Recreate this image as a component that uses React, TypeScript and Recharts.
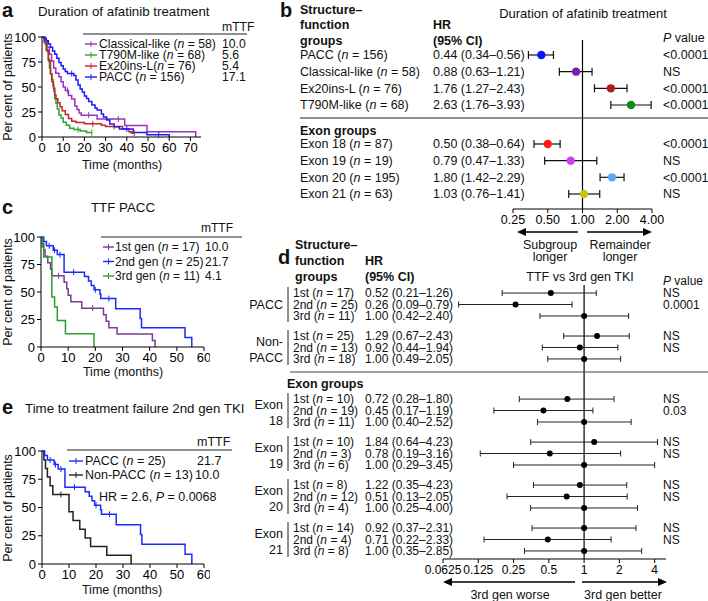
import {
  LineChart,
  Line,
  XAxis,
  YAxis,
  ScatterChart,
  Scatter,
  ErrorBar,
  ReferenceLine,
  Cell,
} from "recharts";

const FONT = '"Liberation Sans", Arial, Helvetica, sans-serif';

// ---- panel a: duration of afatinib treatment (KM) ----
const aLabels = ["Classical-like ", "T790M-like ", "Ex20ins-L", "PACC "];
const aN = [58, 68, 76, 156];
const aMTTF = ["10.0", "5.6", "5.4", "17.1"];
const aColors = ["#9b30c4", "#2ba52b", "#c0262c", "#1a1aff"];
// [months, per cent, censored?]
const aClassical = [[0,100],[1.5,96.6],[2.5,89.7],[3.5,82.8],[4.5,75.9],[5.5,69],[6.5,63.8],[8,60.3],[9,55.2],[10,50],[11,46.6],[12,46.6,1],[12.5,41.4],[14,37.9],[15.5,31],[16.5,27.6],[17.5,24.1],[18.5,21.8],[22,21.8,1],[26,18],[36,18,1],[39,11.5],[49.5,5.3],[72.5,0]];
const aT790M = [[0,100],[1,97],[1.5,92.6],[2.5,85.3],[3,77.9],[3.5,69],[4,63.2],[4.5,57.4],[5.2,51.5],[5.6,45.6],[6,38.2],[6.6,33.8],[7.2,27.9],[8,22.1],[9,19.1],[10,14.7],[11.5,11.8],[13,8.8],[15,7.4],[17,7.4,1],[18,5.9],[21,4.4],[23.5,4.4,1]];
const aEx20 = [[0,100],[1,94.7],[2,86.8],[3,76.3],[4,63.2],[4.7,55.3],[5.4,48.7],[6,42.1],[6.6,38.2],[7.5,34.2],[8.5,30.3],[9.5,26.3],[11,22.4],[12.5,18.4],[14,15.8],[16,14.5],[20,13.2],[24,13.2,1],[28,11.8],[30,10.5],[34,10.5,1],[38,7.9],[41,5.3],[42,3.9],[43.5,3.9,1]];
const aPACC = [[0,100],[1,98.7],[2,96.2],[3,92.9],[4,89.7],[5,85.9],[6,82.7],[7,78.8],[8,74.4],[9,71.2],[10,67.9],[11,65.4],[12,63.5],[14,63.5,1],[15,61.5],[16,57],[17,51.9],[18,48],[19,45],[20,41],[21,38.5],[22,35.5],[23.5,32],[25,29],[26,27],[28,23],[29,20],[30.5,17],[32,13],[34,10.3],[36.5,8],[40,8,1],[43,4.5],[49.5,2.2],[55,2.2,1],[60,0]];

// ---- panel c: TTF PACC by generation ----
const cLabels = ["1st gen ", "2nd gen ", "3rd gen "];
const cN = [17, 25, 11];
const cMTTF = ["10.0", "21.7", "4.1"];
const cColors = ["#7a3d8f", "#1a2bff", "#2c9e2c"];
const c1st = [[0,100],[0.5,94.1],[1,88.2],[1.5,82.4],[2.5,76.5],[3.5,70.6],[4,64.7],[6.5,64.7,1],[8.5,58.8],[9.5,52.9],[10,47.1],[11,41.2],[15,35.3],[19,35.3,1],[23,29.4],[24,23.5],[25,17.6],[28,11.8],[41,5.9],[42,0]];
const c2nd = [[0,100],[1,96],[2,92],[3,92,1],[4.5,88],[5,88,1],[6,84],[7,84,1],[8.5,68],[12,68,1],[16,64],[17.5,60],[18.5,56],[19.5,52],[20,52,1],[21.7,48],[22,44],[25,44,1],[27.5,34.8],[36.5,26],[37,17.4],[53,8.7],[55.5,0]];
const c3rd = [[0,100],[0.5,90.9],[1,81.8],[4,45.5],[5,36.4],[6,24.2],[9,12.1],[19.5,0]];

// ---- panel e: TTF 2nd gen TKI ----
const eLabels = ["PACC ", "Non-PACC "];
const eN = [25, 13];
const eMTTF = ["21.7", "10.0"];
const eColors = ["#1a2bff", "#222222"];
const ePACC = c2nd;
const eNonPACC = [[0,100],[0.7,92.3],[1.3,84.6],[2,76.9],[3,69.2],[4,61.5],[7,61.5,1],[10,46.2],[11.5,38.5],[14,30.8],[16,23.1],[18,15.4],[24,7.7],[33,0]];

// ---- panel b: forest plot ----
const bGroups = ["PACC", "Classical-like", "Ex20ins-L", "T790M-like"];
const bGroupN = [156, 58, 76, 68];
const bGroupHR = [0.44, 0.88, 1.76, 2.63];
const bGroupLo = [0.34, 0.63, 1.27, 1.76];
const bGroupHi = [0.56, 1.21, 2.43, 3.93];
const bGroupP = ["<0.0001", "NS", "<0.0001", "<0.0001"];
const bGroupColors = ["#0a14ff", "#7a1fa8", "#b01c1c", "#128a1a"];
const bExons = ["Exon 18", "Exon 19", "Exon 20", "Exon 21"];
const bExonN = [87, 19, 195, 63];
const bExonHR = [0.5, 0.79, 1.8, 1.03];
const bExonLo = [0.38, 0.47, 1.42, 0.76];
const bExonHi = [0.64, 1.33, 2.29, 1.41];
const bExonP = ["<0.0001", "NS", "<0.0001", "NS"];
const bExonColors = ["#ff1a1a", "#d23cf0", "#5aa9ff", "#c9c21a"];
const bTicks = [0.25, 0.5, 1, 2, 4];

// ---- panel d: forest plot vs 3rd gen ----
const dGroupLines = [["PACC"], ["Non-", "PACC"], ["Exon", "18"], ["Exon", "19"], ["Exon", "20"], ["Exon", "21"]];
const dGens = ["1st", "2nd", "3rd"];
const dN = [[17, 25, 11], [25, 13, 18], [10, 19, 11], [10, 3, 6], [8, 12, 4], [14, 4, 8]];
const dHRText = [
  ["0.52 (0.21–1.26)", "0.26 (0.09–0.79)", "1.00 (0.42–2.40)"],
  ["1.29 (0.67–2.43)", "0.92 (0.44–1.94)", "1.00 (0.49–2.05)"],
  ["0.72 (0.28–1.80)", "0.45 (0.17–1.19)", "1.00 (0.40–2.52)"],
  ["1.84 (0.64–4.23)", "0.78 (0.19–3.16)", "1.00 (0.29–3.45)"],
  ["1.22 (0.35–4.23)", "0.51 (0.13–2.05)", "1.00 (0.25–4.00)"],
  ["0.92 (0.37–2.31)", "0.71 (0.22–2.33)", "1.00 (0.35–2.85)"],
];
// estimates as drawn in the plot
const dHR = [[0.52, 0.26, 1], [1.29, 0.92, 1], [0.72, 0.45, 1], [1.22, 0.51, 1], [0.92, 0.71, 1], [1, 0.49, 1]];
const dLo = [[0.2, 0.085, 0.42], [0.67, 0.44, 0.49], [0.28, 0.17, 0.4], [0.35, 0.13, 0.25], [0.37, 0.22, 0.35], [0.36, 0.14, 0.31]];
const dHi = [[1.27, 0.79, 2.4], [2.43, 1.94, 2.05], [1.8, 1.19, 2.52], [4.23, 2.05, 4.0], [2.31, 2.33, 2.85], [2.77, 1.7, 3.1]];
const dP = [["NS", "0.0001", ""], ["NS", "NS", ""], ["NS", "0.03", ""], ["NS", "NS", ""], ["NS", "NS", ""], ["NS", "NS", ""]];
const dTicks = [0.0625, 0.125, 0.25, 0.5, 1, 2, 4];

const nText = (prefix: string, n: number) => (
  <>
    <tspan>{prefix}(</tspan>
    <tspan fontStyle="italic">n</tspan>
    <tspan>{` = ${n})`}</tspan>
  </>
);

const toPts = (arr: number[][]) => arr.map(([t, s, c]) => ({ t, s, c: !!c }));

const censorDot = (p: any) => {
  if (!p.payload || !p.payload.c) return <g key={`d${p.index}`} />;
  return <line key={`d${p.index}`} x1={p.cx} x2={p.cx} y1={p.cy - 3} y2={p.cy + 3} stroke={p.stroke} strokeWidth={1} />;
};

type KMProps = {
  left: number; top: number; width: number; height: number;
  x0: number; x1: number; y0: number; y1: number;
  xMax: number; xTicks: number[];
  series: { key: string; color: string; pts: number[][] }[];
};

const KM = ({ left, top, width, height, x0, x1, y0, y1, xMax, xTicks, series }: KMProps) => (
  <div style={{ position: "absolute", left, top }}>
    <LineChart
      width={width}
      height={height}
      margin={{ top: y0 - top, left: 0, right: left + width - x1, bottom: top + height - y1 - 20 }}
    >
      <XAxis type="number" dataKey="t" domain={[0, xMax]} ticks={xTicks} allowDataOverflow height={20}
        stroke="#000" tickSize={4} interval={0} tick={{ fill: "#000", fontSize: 13, fontFamily: FONT }} />
      <YAxis type="number" domain={[0, 100]} ticks={[0, 25, 50, 75, 100]} width={x0 - left}
        stroke="#000" tickSize={4} interval={0} tick={{ fill: "#000", fontSize: 13, fontFamily: FONT }} />
      {series.map((s) => (
        <Line key={s.key} data={toPts(s.pts)} dataKey="s" type="stepAfter" stroke={s.color}
          strokeWidth={1.5} dot={censorDot} activeDot={false} isAnimationActive={false} />
      ))}
    </LineChart>
  </div>
);

const bRows = [
  ...bGroups.map((g, i) => ({ name: g + " ", n: bGroupN[i], hr: bGroupHR[i], lo: bGroupLo[i], hi: bGroupHi[i], p: bGroupP[i], color: bGroupColors[i], pos: i })),
  ...bExons.map((g, i) => ({ name: g + " ", n: bExonN[i], hr: bExonHR[i], lo: bExonLo[i], hi: bExonHi[i], p: bExonP[i], color: bExonColors[i], pos: i + 5.34 })),
].map((r) => ({ ...r, err: [r.hr - r.lo, r.hi - r.hr], text: `${r.hr.toFixed(2)} (${r.lo.toFixed(2)}–${r.hi.toFixed(2)})` }));

const dRows = dN.flatMap((ns, g) =>
  ns.map((n, r) => ({
    g, r, n,
    pos: g * 3.75 + r + (g >= 2 ? 1.75 : 0),
    hr: dHR[g][r],
    err: [dHR[g][r] - dLo[g][r], dHi[g][r] - dHR[g][r]],
    text: dHRText[g][r],
    p: dP[g][r],
  }))
);

const BTick = (props: any) => {
  const row = bRows[props.index];
  if (!row) return <g />;
  const y = props.y;
  return (
    <g fontFamily={FONT} fontSize={12.5} fill="#111">
      <text x={70} y={y} dy="0.35em" textAnchor="start">{nText(row.name, row.n)}</text>
      <text x={203} y={y} dy="0.35em" textAnchor="start">{row.text}</text>
      <text x={433} y={y} dy="0.35em" textAnchor="start">{row.p}</text>
    </g>
  );
};

const DTick = (props: any) => {
  const row = dRows[props.index];
  if (!row) return <g />;
  const y = props.y;
  const lines = dGroupLines[row.g];
  return (
    <g fontFamily={FONT} fontSize={12} fill="#111">
      {row.r === 1 && (
        <>
          <line x1={58} x2={58} y1={y - 17.5} y2={y + 17.5} stroke="#222" strokeWidth={1} />
          {lines.length === 1 ? (
            <text x={53} y={y} dy="0.35em" textAnchor="end" fontSize={12.5}>{lines[0]}</text>
          ) : (
            <>
              <text x={53} y={y - 6} dy="0.35em" textAnchor="end" fontSize={12.5}>{lines[0]}</text>
              <text x={53} y={y + 10} dy="0.35em" textAnchor="end" fontSize={12.5}>{lines[1]}</text>
            </>
          )}
        </>
      )}
      <text x={63} y={y} dy="0.35em" textAnchor="start">{nText(dGens[row.r] + " ", row.n)}</text>
      <text x={135} y={y} dy="0.35em" textAnchor="start">{row.text}</text>
      <text x={433} y={y} dy="0.35em" textAnchor="start">{row.p}</text>
    </g>
  );
};

const T = ({ x, y, children, size = 12.5, bold = false, anchor = "start", rotate }: any) => (
  <text x={x} y={y} dy="0.35em" fontSize={size} fontWeight={bold ? "bold" : "normal"} textAnchor={anchor}
    transform={rotate ? `rotate(${rotate} ${x} ${y})` : undefined}>
    {children}
  </text>
);

const Legend = ({ x0, x1, xText, xVal, headerY, lineY, lineX2, rows, size = 12.5 }: any) => (
  <g>
    <T x={xVal} y={headerY} size={size}>mTTF</T>
    <line x1={x0} x2={lineX2} y1={lineY} y2={lineY} stroke="#222" strokeWidth={1.2} />
    {rows.map((r: any, i: number) => (
      <g key={i}>
        <line x1={x0 + 2} x2={x1} y1={r.y} y2={r.y} stroke={r.color} strokeWidth={1.4} />
        <line x1={(x0 + 2 + x1) / 2} x2={(x0 + 2 + x1) / 2} y1={r.y - 3} y2={r.y + 3} stroke={r.color} strokeWidth={1} />
        <T x={xText} y={r.y} size={size}>{nText(r.label, r.n)}</T>
        <T x={r.xv ?? xVal} y={r.y} size={size}>{r.val}</T>
      </g>
    ))}
  </g>
);

const Arrow = ({ x1, x2, y, dir }: any) => {
  const tip = dir < 0 ? x1 : x2;
  const head = dir < 0 ? `${tip},${y} ${tip + 9},${y - 4} ${tip + 9},${y + 4}` : `${tip},${y} ${tip - 9},${y - 4} ${tip - 9},${y + 4}`;
  return (
    <g>
      <line x1={dir < 0 ? x1 + 8 : x1} x2={dir < 0 ? x2 : x2 - 8} y1={y} y2={y} stroke="#000" strokeWidth={1.5} />
      <polygon points={head} fill="#000" />
    </g>
  );
};

const App = () => {
  const aSeries = [aClassical, aT790M, aEx20, aPACC].map((pts, i) => ({ key: aLabels[i], color: aColors[i], pts }));
  const cSeries = [c1st, c2nd, c3rd].map((pts, i) => ({ key: cLabels[i], color: cColors[i], pts }));
  const eSeries = [eNonPACC, ePACC].map((pts, i) => ({ key: eLabels[1 - i], color: eColors[1 - i], pts }));

  return (
    <div style={{ position: "absolute", left: 0, top: 0, width: 708, height: 601, background: "#fff", fontFamily: FONT, overflow: "hidden" }}>
      <KM left={0} top={30} width={210} height={135} x0={42} x1={201} y0={37} y1={137} xMax={75}
        xTicks={[0, 10, 20, 30, 40, 50, 60, 70]} series={aSeries} />
      <KM left={0} top={230} width={210} height={140} x0={41} x1={204} y0={237} y1={347} xMax={60}
        xTicks={[0, 10, 20, 30, 40, 50, 60]} series={cSeries} />
      <KM left={0} top={444} width={210} height={140} x0={42} x1={204} y0={451} y1={564} xMax={60}
        xTicks={[0, 10, 20, 30, 40, 50, 60]} series={eSeries} />

      <div style={{ position: "absolute", left: 230, top: 40 }}>
        <ScatterChart width={478} height={189} margin={{ top: 0, right: 56, bottom: 0, left: 0 }}>
          <XAxis type="number" dataKey="hr" scale="log" domain={[0.25, 4]} ticks={bTicks} allowDataOverflow height={20}
            stroke="#000" tickSize={4} interval={0} tickFormatter={(v: number) => v.toFixed(2)}
            tick={{ fill: "#000", fontSize: 12.5, fontFamily: FONT }} />
          <YAxis type="number" dataKey="pos" domain={[-0.9, 9.24]} reversed ticks={bRows.map((r) => r.pos)} interval={0}
            width={283} axisLine={false} tickLine={false} tick={(p: any) => <BTick {...p} />} />
          <ReferenceLine x={1} stroke="#000" strokeWidth={1.2} />
          <Scatter data={bRows} isAnimationActive={false}
            shape={(p: any) => <circle cx={p.cx} cy={p.cy} r={4.2} fill={p.payload.color} />}>
            <ErrorBar dataKey="err" direction="x" width={4} stroke="#111" strokeWidth={1.2} />
            {bRows.map((r, i) => <Cell key={i} fill={r.color} />)}
          </Scatter>
        </ScatterChart>
      </div>

      <div style={{ position: "absolute", left: 230, top: 285 }}>
        <ScatterChart width={478} height={294} margin={{ top: 0, right: 42, bottom: 0, left: 0 }}>
          <XAxis type="number" dataKey="hr" scale="log" domain={[0.0625, 5]} ticks={dTicks} allowDataOverflow height={20}
            stroke="#000" tickSize={4} interval={0} tickFormatter={(v: number) => String(v)}
            tick={{ fill: "#000", fontSize: 12, fontFamily: FONT }} />
          <YAxis type="number" dataKey="pos" domain={[-0.7, 23.2]} reversed ticks={dRows.map((r) => r.pos)} interval={0}
            width={213} axisLine={false} tickLine={false} tick={(p: any) => <DTick {...p} />} />
          <ReferenceLine x={1} stroke="#000" strokeWidth={1.2} />
          <Scatter data={dRows} isAnimationActive={false}
            shape={(p: any) => <circle cx={p.cx} cy={p.cy} r={3} fill="#000" />}>
            <ErrorBar dataKey="err" direction="x" width={3} stroke="#222" strokeWidth={1} />
          </Scatter>
        </ScatterChart>
      </div>

      <svg width={708} height={601} style={{ position: "absolute", left: 0, top: 0, pointerEvents: "none" }}
        fontFamily={FONT} fill="#111">
        {/* panel a */}
        <T x={2} y={10} size={20} bold>a</T>
        <T x={38} y={11} size={13.3}>Duration of afatinib treatment</T>
        <T x={8} y={87} size={12.5} anchor="middle" rotate={-90}>Per cent of patients</T>
        <T x={122} y={165} size={12.5} anchor="middle">Time (months)</T>
        <Legend x0={83} x1={97} xText={99} xVal={222} headerY={27} lineY={34} lineX2={247} size={12.2}
          rows={aLabels.map((l, i) => ({ label: l, n: aN[i], val: aMTTF[i], color: aColors[i], y: 44 + i * 11 }))} />

        {/* panel b */}
        <T x={280} y={10} size={20} bold>b</T>
        <T x={300} y={10} bold>Structure–</T>
        <T x={300} y={25} bold>function</T>
        <T x={300} y={41} bold>groups</T>
        <T x={433} y={25} bold>HR</T>
        <T x={433} y={41} bold>(95% CI)</T>
        <T x={583} y={13} size={13} anchor="middle">Duration of afatinib treatment</T>
        <T x={663} y={38}><tspan fontStyle="italic">P</tspan> value</T>
        <line x1={300} x2={708} y1={118} y2={118} stroke="#222" strokeWidth={1.2} />
        <T x={300} y={131} bold>Exon groups</T>
        <Arrow x1={517} x2={578} y={232} dir={-1} />
        <Arrow x1={587} x2={652} y={232} dir={1} />
        <T x={550} y={245} anchor="middle">Subgroup</T>
        <T x={550} y={257} anchor="middle">longer</T>
        <T x={620} y={245} anchor="middle">Remainder</T>
        <T x={620} y={257} anchor="middle">longer</T>

        {/* panel c */}
        <T x={2} y={207} size={20} bold>c</T>
        <T x={123} y={207} size={13.3} anchor="middle">TTF PACC</T>
        <T x={8} y={292} size={12.5} anchor="middle" rotate={-90}>Per cent of patients</T>
        <T x={123} y={372} size={12.5} anchor="middle">Time (months)</T>
        <Legend x0={101} x1={114} xText={115} xVal={201} headerY={228} lineY={237} lineX2={242} size={12}
          rows={cLabels.map((l, i) => ({ label: l, n: cN[i], val: cMTTF[i], color: cColors[i], y: 247 + i * 14.5, xv: 205 }))} />

        {/* panel d */}
        <T x={278} y={257} size={20} bold>d</T>
        <T x={295} y={245} bold>Structure–</T>
        <T x={295} y={261} bold>function</T>
        <T x={295} y={277} bold>groups</T>
        <T x={365} y={261} bold>HR</T>
        <T x={365} y={277} bold>(95% CI)</T>
        <T x={580} y={277} anchor="middle">TTF vs 3rd gen TKI</T>
        <T x={663} y={281} size={12}><tspan fontStyle="italic">P</tspan> value</T>
        <line x1={290} x2={708} y1={372} y2={372} stroke="#444" strokeWidth={1.2} />
        <T x={287} y={384} bold>Exon groups</T>
        <Arrow x1={443} x2={575} y={582} dir={-1} />
        <Arrow x1={582} x2={667} y={582} dir={1} />
        <T x={510} y={595} anchor="middle">3rd gen worse</T>
        <T x={623} y={595} anchor="middle">3rd gen better</T>

        {/* panel e */}
        <T x={2} y={407} size={20} bold>e</T>
        <T x={25} y={408} size={13.3}>Time to treatment failure 2nd gen TKI</T>
        <T x={8} y={508} size={12.5} anchor="middle" rotate={-90}>Per cent of patients</T>
        <T x={122} y={590} size={12.5} anchor="middle">Time (months)</T>
        <Legend x0={67} x1={83} xText={85} xVal={197} headerY={442} lineY={450} lineX2={232}
          rows={eLabels.map((l, i) => ({ label: l, n: eN[i], val: eMTTF[i], color: eColors[i], y: 461 + i * 14, xv: 197 - i * 2 }))} />
        <T x={99} y={497}>HR = 2.6, <tspan fontStyle="italic">P</tspan> = 0.0068</T>
      </svg>
    </div>
  );
};

export default App;
